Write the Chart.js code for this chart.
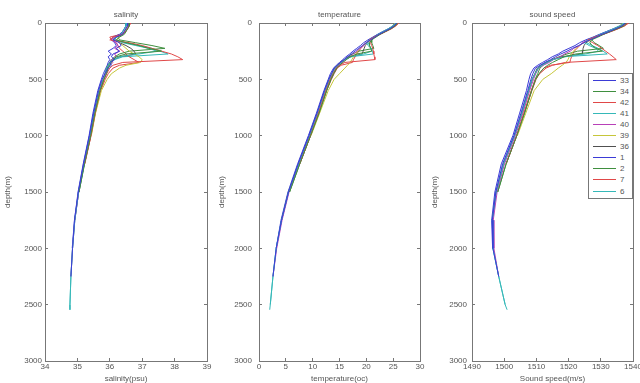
<!DOCTYPE html>
<html><head><meta charset="utf-8">
<script src="https://cdn.jsdelivr.net/npm/chart.js@4.4.1/dist/chart.umd.min.js"></script>
<style>
html,body{margin:0;padding:0;background:#fff;}
#wrap{position:relative;width:640px;height:383px;overflow:hidden;background:#fff;}
canvas{position:absolute;top:0;}
#legend{position:absolute;left:588px;top:73px;width:43px;height:124px;border:1px solid #777;background:#fff;font:8px "Liberation Sans",Arial,sans-serif;color:#555;}
.row{position:absolute;left:0;height:11px;width:43px;}
.row .ln{position:absolute;left:4px;top:5px;width:23px;height:1px;}
.row .lb{position:absolute;left:31px;top:0;line-height:11px;color:#555;font-style:normal;}
</style></head><body>
<div id="wrap">
<canvas id="c1" width="213" height="383" style="left:0px"></canvas>
<canvas id="c2" width="212" height="383" style="left:214px"></canvas>
<canvas id="c3" width="213" height="383" style="left:427px"></canvas>
<div id="legend"></div>
</div>
<script>
// ---------- DATA ----------
const depths = [0,25,50,75,100,125,150,175,200,225,250,275,300,325,350,375,400,450,500,600,800,1000,1250,1500,1750,2000,2250,2500,2545];
const stations = ['33','34','42','41','40','39','36','1','2','7','6'];

const sal_33 = [36.55,36.55,36.5,36.45,36.4,36.2,36.1,36.3,36.35,36.2,36.3,36.1,36.05,36.15,36.0,36.05,35.95,35.85,35.76,35.65,35.5,35.37,35.19,35.03,34.91,34.85,34.80];
const sal_34 = [36.6,36.6,36.55,36.5,36.45,36.3,36.2,36.5,36.9,37.2,37.6,36.5,36.2,36.1,36.05,36.0,35.95,35.9,35.82,35.7,35.54,35.41,35.22,35.05];
const sal_42 = [36.6,36.6,36.55,36.5,36.4,36.1,36.0,36.6,37.0,37.3,37.6,37.9,38.1,38.25,36.4,36.1,36.0,35.9,35.82,35.7,35.55,35.42,35.23];
const sal_41 = [36.5,36.5,36.45,36.4,36.35,36.2,36.15,36.4,36.8,37.2,37.45,36.9,36.3,36.1,36.0,35.95,35.9,35.85,35.8,35.67,35.51,35.39,35.21,35.04,34.92,34.85,34.8,34.77];
const sal_40 = [36.6,36.55,36.5,36.45,36.35,36.15,36.05,36.2,36.25,36.15,36.3,36.15,36.2,36.05,36.1,36.0,35.95,35.88,35.8,35.68,35.52,35.4,35.21,35.04,34.92,34.85,34.8];
const sal_39 = [36.55,36.55,36.5,36.45,36.4,36.3,36.2,36.3,36.4,36.5,36.6,36.75,36.9,37.0,36.95,36.5,36.3,36.05,35.92,35.74,35.56,35.43];
const sal_36 = [36.6,36.6,36.55,36.5,36.4,36.2,36.15,36.3,36.5,36.65,36.75,36.8,36.3,36.1,36.0,35.95,35.9,35.85,35.8,35.68,35.53,35.4,35.21,35.04,34.92];
const sal_1  = [36.5,36.5,36.45,36.4,36.3,36.1,36.05,36.15,36.2,36.1,35.95,36.05,35.95,36.0,35.95,35.92,35.88,35.8,35.74,35.63,35.48,35.36,35.18,35.02,34.91,34.84];
const sal_2  = [36.55,36.55,36.5,36.45,36.4,36.25,36.3,36.8,37.3,37.7,36.6,36.3,36.15,36.05,36.0,35.95,35.92,35.88,35.82,35.7,35.55,35.41,35.22,35.05];
const sal_7  = [36.65,36.6,36.55,36.5,36.35,36.0,36.05,36.2,36.25,36.3,36.4,36.5,36.6,36.75,36.9,36.3,36.1,35.95,35.86,35.72,35.55,35.42,35.22];
const sal_6  = [36.5,36.5,36.45,36.4,36.35,36.15,36.1,36.5,36.9,37.3,37.55,37.8,36.4,36.15,36.05,35.98,35.92,35.86,35.79,35.67,35.51,35.38,35.2,35.03,34.92,34.85,34.8,34.77,34.77];

const temp_33 = [25.6,25.2,24.4,23.4,22.4,21.6,20.8,20.0,19.3,18.6,17.9,17.2,16.5,15.9,15.2,14.6,14.0,13.5,13.0,12.2,10.8,9.3,7.3,5.5,4.2,3.2,2.6];
const temp_34 = [25.8,25.4,24.6,23.6,22.6,21.8,21.0,20.6,20.6,20.8,21.0,18.2,17.0,16.3,15.6,15.0,14.5,13.9,13.4,12.6,11.2,9.6,7.6,5.7];
const temp_42 = [26.0,25.5,24.7,23.6,22.5,21.4,20.6,20.8,21.0,21.2,21.3,21.4,21.5,21.6,16.0,15.0,14.4,13.8,13.3,12.5,11.1,9.6,7.6];
const temp_41 = [25.5,25.0,24.2,23.2,22.2,21.4,20.6,20.0,20.3,20.9,21.0,19.5,17.2,16.0,15.3,14.7,14.2,13.6,13.1,12.3,10.9,9.4,7.4,5.5,4.2,3.2,2.6,2.1];
const temp_40 = [25.9,25.3,24.5,23.5,22.5,21.6,20.6,19.9,19.5,18.8,18.3,17.6,17.0,16.2,15.6,14.9,14.3,13.7,13.2,12.4,11.0,9.5,7.5,5.6,4.3,3.3,2.6];
const temp_39 = [25.4,25.0,24.3,23.3,22.4,21.6,20.8,20.0,19.3,18.8,18.4,18.0,17.6,17.3,17.0,16.5,16.0,15.0,14.0,12.9,11.3,9.7];
const temp_36 = [25.7,25.2,24.5,23.5,22.5,21.6,20.8,20.2,19.8,19.6,19.4,19.2,16.8,15.9,15.2,14.6,14.1,13.6,13.1,12.3,10.9,9.4,7.4,5.5,4.2];
const temp_1  = [25.5,25.0,24.2,23.1,22.1,21.2,20.3,19.5,18.9,18.2,17.5,16.9,16.2,15.6,15.0,14.4,13.9,13.3,12.9,12.1,10.7,9.2,7.2,5.4,4.1,3.2];
const temp_2  = [25.6,25.1,24.4,23.4,22.4,21.5,21.0,21.0,21.2,21.4,18.6,17.4,16.6,15.9,15.3,14.8,14.4,13.9,13.4,12.6,11.2,9.6,7.6,5.7];
const temp_7  = [26.1,25.5,24.7,23.7,22.6,21.5,20.6,20.0,19.5,19.0,18.6,18.2,17.9,17.6,17.4,15.3,14.6,14.0,13.5,12.6,11.1,9.6,7.6];
const temp_6  = [25.4,24.9,24.1,23.1,22.2,21.3,20.5,20.3,20.6,20.9,21.1,21.3,17.0,15.9,15.2,14.6,14.1,13.6,13.1,12.3,10.9,9.4,7.4,5.5,4.2,3.2,2.6,2.1,2.0];

const ss_33 = [1537.6,1536.6,1534.7,1532.7,1530.4,1528.6,1526.6,1524.8,1523.1,1521.2,1519.5,1517.6,1515.9,1514.4,1512.7,1511.2,1509.7,1508.9,1508.3,1507.3,1505.2,1503.0,1499.5,1497.4,1496.3,1496.5,1498.3];
const ss_34 = [1538.0,1537.2,1535.2,1533.0,1530.9,1529.1,1527.1,1526.6,1527.3,1528.5,1530.5,1522.2,1518.6,1516.8,1515.0,1513.5,1512.3,1510.8,1509.8,1508.5,1506.3,1503.9,1500.6,1498.0];
const ss_42 = [1538.5,1537.4,1535.4,1533.0,1530.6,1528.0,1526.0,1527.5,1529.0,1530.3,1531.5,1532.7,1533.8,1534.8,1519.0,1515.0,1513.0,1511.0,1509.7,1508.4,1506.1,1503.9,1500.6];
const ss_41 = [1537.3,1536.1,1534.2,1532.2,1529.9,1528.1,1526.0,1524.9,1526.4,1528.4,1529.3,1525.3,1518.8,1515.2,1513.3,1511.8,1510.6,1509.6,1508.7,1507.6,1505.5,1503.2,1499.8,1497.5,1496.3,1496.5,1498.3,1500.3];
const ss_40 = [1538.2,1536.9,1535.0,1532.9,1530.7,1528.6,1526.0,1524.3,1523.4,1521.6,1520.5,1518.7,1517.4,1515.3,1514.0,1512.1,1510.7,1509.8,1509.1,1507.9,1505.8,1503.5,1500.1,1497.8,1496.6,1496.8,1498.3];
const ss_39 = [1537.1,1536.1,1534.4,1532.4,1530.4,1528.6,1526.7,1524.8,1523.3,1522.3,1521.5,1520.8,1520.2,1519.8,1519.2,1518.0,1516.8,1514.6,1512.0,1509.3,1506.7,1504.1];
const ss_36 = [1537.9,1536.7,1535.0,1532.9,1530.6,1528.6,1526.7,1525.4,1524.8,1524.5,1524.4,1524.3,1517.8,1515.0,1512.9,1511.3,1510.3,1509.5,1508.7,1507.6,1505.5,1503.2,1499.8,1497.5,1496.3];
const ss_1  = [1537.3,1536.1,1534.1,1531.8,1529.6,1527.6,1525.3,1523.4,1522.0,1520.1,1518.2,1516.8,1514.9,1513.5,1511.9,1510.4,1509.2,1508.2,1507.7,1506.9,1504.8,1502.7,1499.1,1497.1,1496.1,1496.4];
const ss_2  = [1537.6,1536.4,1534.6,1532.5,1530.3,1528.3,1527.2,1528.0,1529.5,1530.8,1522.8,1519.5,1517.0,1515.0,1513.4,1512.1,1511.1,1510.4,1509.6,1508.5,1506.3,1503.9,1500.6,1498.0];
const ss_7  = [1538.7,1537.4,1535.5,1533.3,1530.9,1528.3,1526.0,1524.5,1523.5,1522.6,1521.8,1521.3,1520.9,1520.6,1520.4,1514.4,1512.3,1510.9,1509.9,1508.6,1506.3,1503.9,1500.6];
const ss_6  = [1537.0,1535.8,1533.9,1531.9,1529.8,1527.8,1525.8,1525.6,1527.3,1529.2,1530.7,1532.0,1518.2,1515.0,1513.1,1511.6,1510.5,1509.6,1508.7,1507.6,1505.5,1503.2,1499.8,1497.5,1496.3,1496.5,1498.3,1500.3,1500.9];

const salinitySeries = [sal_33,sal_34,sal_42,sal_41,sal_40,sal_39,sal_36,sal_1,sal_2,sal_7,sal_6];
const temperatureSeries = [temp_33,temp_34,temp_42,temp_41,temp_40,temp_39,temp_36,temp_1,temp_2,temp_7,temp_6];
const soundSeries = [ss_33,ss_34,ss_42,ss_41,ss_40,ss_39,ss_36,ss_1,ss_2,ss_7,ss_6];

const depthTicks = [0,500,1000,1500,2000,2500,3000];
const salTicks = [34,35,36,37,38,39];
const tempTicks = [0,5,10,15,20,25,30];
const ssTicks = [1490,1500,1510,1520,1530,1540];

// ---------- STYLE ----------
const lineColors = ['#3b3bd6','#3f8f3f','#e04848','#35b8b8','#b840b8','#c6c63a','#505050','#3b3bd6','#3f8f3f','#e04848','#35b8b8'];
const FONT = '"Liberation Sans", Arial, sans-serif';
const AX = '#777';
const TXT = '#555';

function makeDatasets(series){
  return series.map((vals,i)=>({
    label: stations[i],
    data: vals.map((v,j)=>({x:v, y:depths[j]})),
    borderColor: lineColors[i],
    backgroundColor: lineColors[i],
    borderWidth: 1,
    pointRadius: 0,
    showLine: true,
    tension: 0,
    fill: false
  }));
}

function makeChart(id, series, ticksArr, title, xTitle, yPad, rightPad){
  const grid = {drawOnChartArea:false, drawTicks:true, tickLength:-3, color:AX, lineWidth:1};
  const border = {display:true, color:AX, width:1};
  const xmin = ticksArr[0], xmax = ticksArr[ticksArr.length-1], xstep = ticksArr[1]-ticksArr[0];
  const ymin = depthTicks[0], ymax = depthTicks[depthTicks.length-1], ystep = depthTicks[1]-depthTicks[0];
  return new Chart(document.getElementById(id), {
    type: 'scatter',
    data: {datasets: makeDatasets(series)},
    options: {
      responsive:false, animation:false, devicePixelRatio:1,
      layout:{padding:{left:0,right:rightPad,top:0,bottom:0}},
      plugins:{
        legend:{display:false}, tooltip:{enabled:false},
        title:{display:true, text:title, fullSize:false, color:TXT,
               font:{family:FONT,size:8,lineHeight:1.2,weight:'normal'}, padding:{top:10,bottom:3.4}}
      },
      scales:{
        x:{type:'linear', position:'bottom', min:xmin, max:xmax,
           ticks:{stepSize:xstep, padding:4, color:TXT, font:{family:FONT,size:8}, maxRotation:0, autoSkip:false, callback:v=>String(v)},
           grid, border,
           title:{display:true, text:xTitle, color:TXT, font:{family:FONT,size:8,lineHeight:1}, padding:{top:0,bottom:0}},
           afterFit(s){ s.height=22; s.paddingLeft=0; s.paddingRight=0; }},
        x2:{type:'linear', position:'top', min:xmin, max:xmax,
           ticks:{stepSize:xstep, display:false}, grid, border,
           afterFit(s){ s.height=0; s.paddingLeft=0; s.paddingRight=0; }},
        y:{type:'linear', position:'left', reverse:true, min:ymin, max:ymax,
           ticks:{stepSize:ystep, padding:yPad, color:TXT, font:{family:FONT,size:8}, callback:v=>String(v)},
           grid, border,
           title:{display:true, text:'depth(m)', color:TXT, font:{family:FONT,size:8,lineHeight:1}, padding:{top:4,bottom:0}},
           afterFit(s){ s.width=45; s.paddingTop=0; s.paddingBottom=0; }},
        y2:{type:'linear', position:'right', reverse:true, min:ymin, max:ymax,
           ticks:{stepSize:ystep, display:false}, grid, border,
           afterFit(s){ s.width=0; s.paddingTop=0; s.paddingBottom=0; }}
      }
    }
  });
}

makeChart('c1', salinitySeries, salTicks, 'salinity', 'salinity(psu)', 6, 6);
makeChart('c2', temperatureSeries, tempTicks, 'temperature', 'temperature(oc)', 10, 6);
makeChart('c3', soundSeries, ssTicks, 'sound speed', 'Sound speed(m/s)', 8, 7);

// legend (HTML, real text)
const lg = document.getElementById('legend');
stations.forEach((s,i)=>{
  const r = document.createElement('div');
  r.className='row';
  r.style.top = (1.2 + 11.03*i) + 'px';
  const ln = document.createElement('div'); ln.className='ln'; ln.style.background = lineColors[i];
  const sp = document.createElement('div'); sp.className='lb'; sp.textContent = s;
  r.appendChild(ln); r.appendChild(sp); lg.appendChild(r);
});
</script>
</body></html>
